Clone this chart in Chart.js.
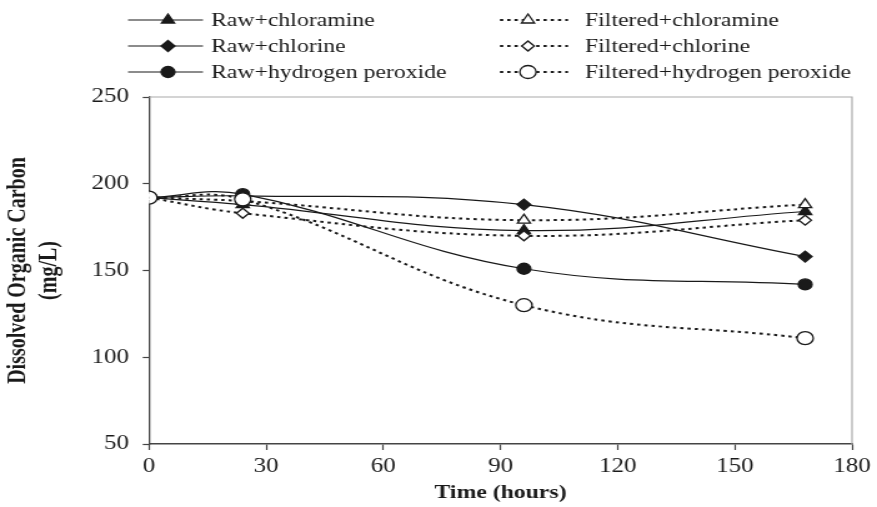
<!DOCTYPE html>
<html>
<head>
<meta charset="utf-8">
<script src="https://cdn.jsdelivr.net/npm/chart.js@4/dist/chart.umd.min.js"></script>
<style>
  html, body { margin: 0; padding: 0; background: #fff; overflow: hidden; }
  #wrap { width: 877px; height: 507px; position: relative; }
  #c { display: block; width: 877px; height: 507px; }
</style>
</head>
<body>
<div id="wrap"><canvas id="c" width="702" height="507" style="width:877px;height:507px"></canvas></div>
<script>
// ---- data ----
const hours = [0, 24, 96, 168];
const rawChloramine      = [192, 188, 173, 184];
const rawChlorine        = [192, 193, 188, 158];
const rawPeroxide        = [192, 194, 151, 142];
const filteredChloramine = [192, 190, 179, 188];
const filteredChlorine   = [192, 183, 170, 179];
const filteredPeroxide   = [192, 191, 130, 111];
const seriesNames = [
  'Raw+chloramine', 'Raw+chlorine', 'Raw+hydrogen peroxide',
  'Filtered+chloramine', 'Filtered+chlorine', 'Filtered+hydrogen peroxide'
];
const xTicks = [0, 30, 60, 90, 120, 150, 180];
const yTicks = [50, 100, 150, 200, 250];

// The reference figure is stretched horizontally; the canvas is drawn narrower and widened by CSS.
const SX = 877 / 702;
const serif = "'Liberation Serif', 'Times New Roman', serif";
const ink = '#1a1a1a';

function pts(vals) { return hours.map((h, i) => ({ x: h, y: vals[i] })); }

function ds(label, vals, style, filled, dashed, radius, order) {
  return {
    label: label,
    data: pts(vals),
    order: order,
    borderColor: ink,
    borderWidth: dashed ? 2 : 1.2,
    borderDash: dashed ? [2.6, 3.2] : [],
    pointStyle: style,
    pointRadius: radius,
    pointBorderWidth: 1.3,
    pointBorderColor: ink,
    pointBackgroundColor: filled ? ink : '#ffffff',
    tension: 0.4,
    fill: false
  };
}

const datasets = [
  ds(seriesNames[0], rawChloramine, 'triangle', true, false, 6, 3),
  ds(seriesNames[1], rawChlorine, 'rectRot', true, false, 5.5, 3),
  ds(seriesNames[2], rawPeroxide, 'circle', true, false, 5.5, 3),
  ds(seriesNames[3], filteredChloramine, 'triangle', false, true, 6, 1),
  ds(seriesNames[4], filteredChlorine, 'rectRot', false, true, 5, 1),
  ds(seriesNames[5], filteredPeroxide, 'circle', false, true, 6.5, 0)
];

function drawMarker(ctx, style, r, x, y, fill) {
  ctx.save();
  ctx.beginPath();
  if (style === 'circle') {
    ctx.arc(x, y, r, 0, Math.PI * 2);
  } else if (style === 'triangle') {
    const s = r * 3 / Math.sqrt(3);
    const h = s * Math.sqrt(3) / 2;
    ctx.moveTo(x, y - 2 * h / 3);
    ctx.lineTo(x + s / 2, y + h / 3);
    ctx.lineTo(x - s / 2, y + h / 3);
  } else if (style === 'rectRot') {
    ctx.moveTo(x, y - r); ctx.lineTo(x + r, y); ctx.lineTo(x, y + r); ctx.lineTo(x - r, y);
  }
  ctx.closePath();
  ctx.fillStyle = fill;
  ctx.fill();
  ctx.lineWidth = 1.3;
  ctx.strokeStyle = ink;
  ctx.stroke();
  ctx.restore();
}

const customLegend = {
  id: 'customLegend',
  afterDraw(chart) {
    const ctx = chart.ctx;
    const rows = [20, 46, 72];
    const cols = [
      { x0: 128 / SX, x1: 203 / SX, mx: 168 / SX, tx: 211 / SX },
      { x0: 500 / SX, x1: 568 / SX, mx: 528 / SX, tx: 585 / SX }
    ];
    chart.data.datasets.forEach((d, i) => {
      const col = cols[Math.floor(i / 3)];
      const y = rows[i % 3];
      ctx.save();
      ctx.strokeStyle = ink;
      ctx.lineWidth = d.borderWidth;
      ctx.setLineDash(d.borderDash);
      ctx.beginPath();
      ctx.moveTo(col.x0, y); ctx.lineTo(col.x1, y);
      ctx.stroke();
      ctx.restore();
      drawMarker(ctx, d.pointStyle, d.pointRadius, col.mx, y, d.pointBackgroundColor);
      ctx.save();
      ctx.fillStyle = ink;
      ctx.font = '19px ' + serif;
      ctx.textBaseline = 'middle';
      ctx.textAlign = 'left';
      ctx.fillText(d.label, col.tx, y + 1);
      ctx.restore();
    });
  }
};

const frame = {
  id: 'frame',
  beforeDatasetsDraw(chart) {
    const a = chart.chartArea, ctx = chart.ctx;
    ctx.save();
    ctx.strokeStyle = '#aaaaaa';
    ctx.lineWidth = 1.2;
    ctx.beginPath();
    ctx.moveTo(a.left, a.top); ctx.lineTo(a.right, a.top); ctx.lineTo(a.right, a.bottom);
    ctx.stroke();
    ctx.restore();
  }
};

const chart = new Chart(document.getElementById('c'), {
  type: 'line',
  data: { datasets: datasets },
  plugins: [frame, customLegend],
  options: {
    responsive: false,
    animation: false,
    layout: { padding: { top: 97, right: 702 - 855 / SX, left: 0, bottom: 0 } },
    plugins: { legend: { display: false }, tooltip: { enabled: false } },
    scales: {
      x: {
        type: 'linear',
        min: 0, max: 180,
        afterFit(s) { s.height = 63; },
        afterBuildTicks(s) { s.ticks = xTicks.map(v => ({ value: v })); },
        grid: { drawOnChartArea: false, drawTicks: true, tickLength: 6, color: '#444', tickWidth: 1.2 },
        border: { color: '#444', width: 1.5 },
        ticks: { color: ink, padding: 5, font: { family: serif, size: 20 }, maxRotation: 0 },
        title: { display: true, text: 'Time (hours)', color: ink, padding: { top: 0, bottom: 3 },
                 font: { family: serif, size: 19, weight: 'bold' } }
      },
      y: {
        type: 'linear',
        min: 50, max: 250,
        afterFit(s) { s.width = 149 / SX; },
        afterBuildTicks(s) { s.ticks = yTicks.map(v => ({ value: v })); },
        grid: { drawOnChartArea: false, drawTicks: true, tickLength: 5, color: '#444', tickWidth: 1.2 },
        border: { color: '#444', width: 1.3 },
        ticks: { color: ink, padding: 11, font: { family: serif, size: 20 } },
        title: { display: true, text: ['Dissolved Organic Carbon', '(mg/L)'], color: ink,
                 padding: { top: 2, bottom: 0 },
                 font: { family: serif, size: 20, weight: 'bold', lineHeight: 1.25 } }
      }
    }
  }
});
chart.canvas.style.width = '877px';
chart.canvas.style.height = '507px';
</script>
</body>
</html>
